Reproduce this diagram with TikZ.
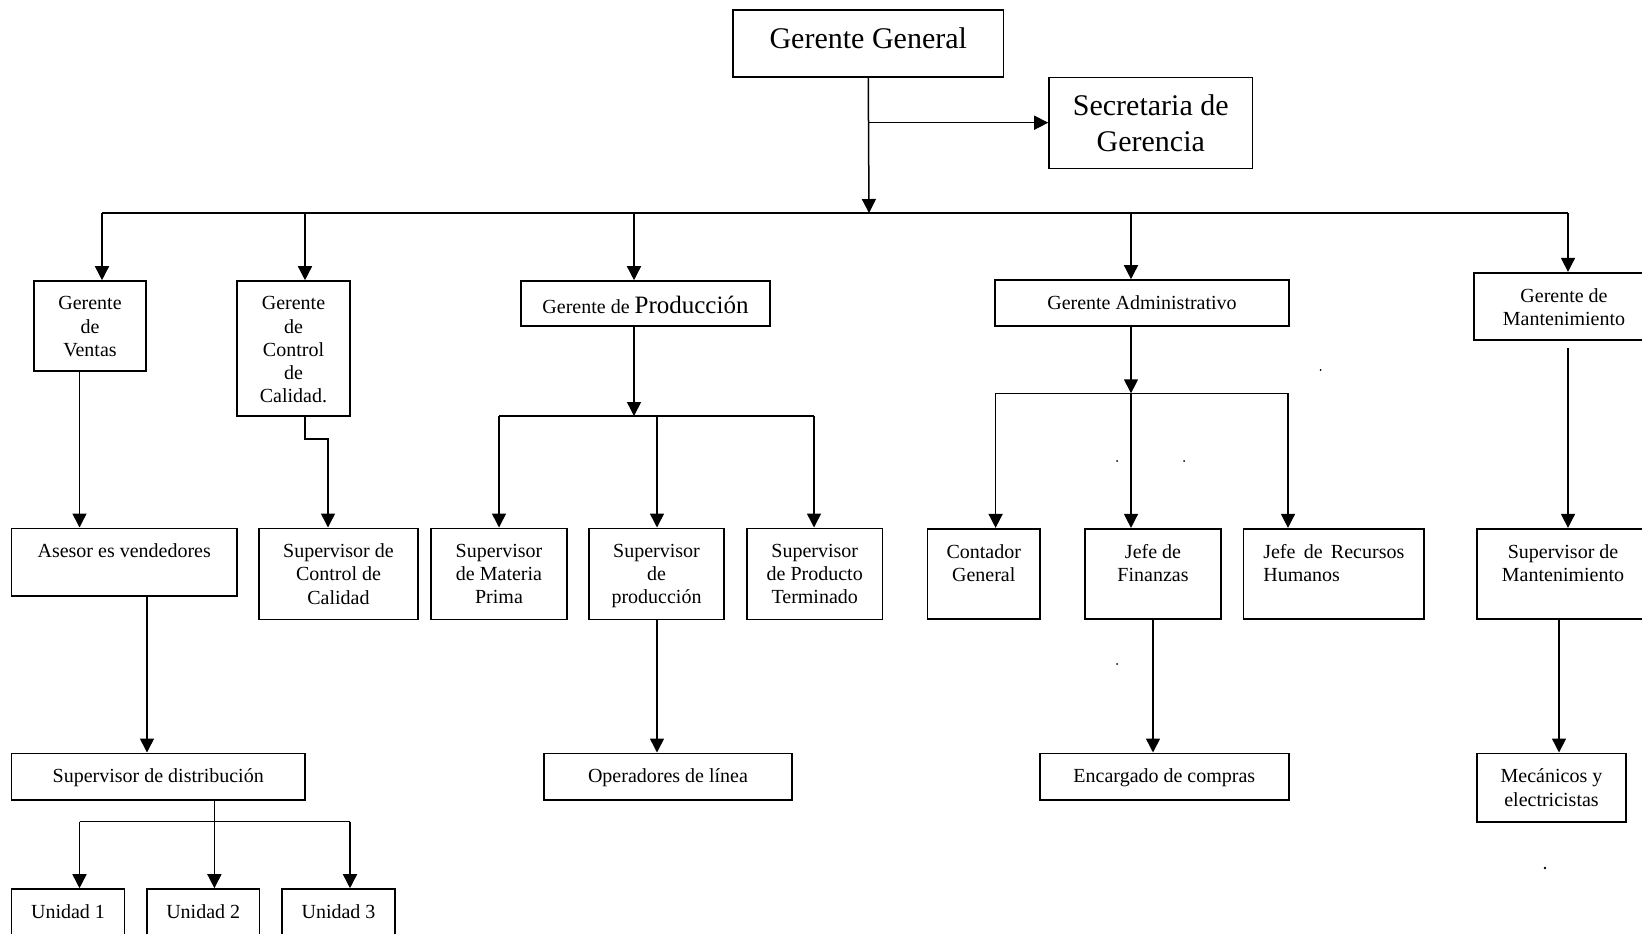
\documentclass[tikz,border=0pt]{standalone}
\usepackage{fontspec}
\setmainfont{Liberation Serif}
\usetikzlibrary{arrows.meta,fit}

\tikzset{
  box/.style={draw, line width=0.8pt, inner sep=0pt},
  txt/.style={inner sep=0pt, align=center, font=\fontsize{10pt}{11.6pt}\selectfont},
  bigtxt/.style={font=\fontsize{15pt}{18pt}\selectfont, yshift=-0.9pt},
  link/.style={line width=0.75pt},
  arr/.style={link, -{Triangle[length=7pt,width=7pt]}},
  speck/.style={black},
}

% #1 name, (#2,#3)-(#4,#5) box corners in px, #6 extra text options, #7 text
\newcommand{\orgbox}[7]{%
  \node[box, fit={(#2,#3) (#4,#5)}] (#1) {};
  \node[txt, anchor=north, #6] (#1-t) at ([yshift=-8pt]#1.north) {#7};
}

\begin{document}
\begin{tikzpicture}[x=0.5pt,y=-0.5pt]
\useasboundingbox (0,0) rectangle (1642,933);
\clip (0,0) rectangle (1642,933);

% ---- boxes ----
\orgbox{gg}{733}{10}{1003.5}{77}{bigtxt}{Gerente General}
\orgbox{sec}{1049}{77.3}{1252.5}{168.3}{bigtxt}{Secretaria de\\Gerencia}

\orgbox{ven}{34}{281}{146}{371}{}{Gerente\\de\\Ventas}
\orgbox{gcc}{237}{281}{350}{416}{}{Gerente\\de\\Control\\de\\Calidad.}
\orgbox{gpr}{521}{281}{770}{326}{}{Gerente de {\fontsize{12.5pt}{14pt}\selectfont Producción}}
\orgbox{gad}{995}{280}{1289}{326}{}{Gerente Administrativo}
\orgbox{gma}{1474}{272.7}{1654}{340}{}{Gerente de\\Mantenimiento}

\orgbox{ase}{11.5}{528.3}{237}{596}{}{Asesor es vendedores}
\orgbox{scc}{259}{528.3}{418}{619.3}{}{Supervisor de\\Control de\\Calidad}
\orgbox{smp}{431}{528.3}{567}{619.3}{}{Supervisor\\de Materia\\Prima}
\orgbox{spr}{589}{528.3}{724}{619.3}{}{Supervisor\\de\\producción}
\orgbox{spt}{747}{528.3}{882.4}{619.3}{}{Supervisor\\de Producto\\Terminado}
\orgbox{con}{927.5}{528.7}{1040}{619}{}{Contador\\General}
\orgbox{jfi}{1085}{528.7}{1221}{619}{}{Jefe de\\Finanzas}
\orgbox{jrh}{1243.6}{528.7}{1424}{619}{text width=70.5pt, align=left}{Jefe\hfill de\hfill Recursos\\Humanos}
\orgbox{smt}{1477}{528.7}{1649}{619}{}{Supervisor de\\Mantenimiento}

\orgbox{dis}{11.5}{753.3}{305}{800}{}{Supervisor de distribución}
\orgbox{ope}{544}{753.3}{792}{800}{}{Operadores de línea}
\orgbox{enc}{1040}{753.3}{1288.7}{800}{}{Encargado de compras}
\orgbox{mec}{1477}{753.3}{1626}{822}{}{Mecánicos y\\electricistas}

\orgbox{un1}{11.5}{889}{124.5}{945}{}{Unidad 1}
\orgbox{un2}{147}{889}{259.4}{945}{}{Unidad 2}
\orgbox{un3}{282}{889}{395}{945}{}{Unidad 3}

% ---- general manager ----
\coordinate (bus) at (869,213);
\coordinate (secY) at (869,122.7);
\draw[arr] (gg.south) -- (bus);
\draw[arr] (secY) -- (sec.west |- secY);

% ---- main bus to the managers ----
\coordinate (bL) at (102,213);
\coordinate (bCC) at (305,213);
\coordinate (bPr) at (634,213);
\coordinate (bAd) at (1131,213);
\coordinate (bR) at (1568,213);
\draw[link] (bL) -- (bR);
\draw[arr] (bL) -- (ven.north -| bL);
\draw[arr] (bCC) -- (gcc.north -| bCC);
\draw[arr] (bPr) -- (gpr.north -| bPr);
\draw[arr] (bAd) -- (gad.north -| bAd);
\draw[arr] (bR) -- (gma.north -| bR);

% ---- sales ----
\coordinate (vX) at (79.5,0);
\draw[arr] (ven.south -| vX) -- (ase.north -| vX);
\coordinate (asX) at (147,0);
\draw[arr] (ase.south -| asX) -- (dis.north -| asX);
\coordinate (uB) at (214.4,821.7);
\coordinate (uL) at (79.5,821.7);
\coordinate (uR) at (350,821.7);
\draw[link] (dis.south -| uB) -- (uB);
\draw[link] (uL) -- (uR);
\draw[arr] (uL) -- (un1.north -| uL);
\draw[arr] (uB) -- (un2.north -| uB);
\draw[arr] (uR) -- (un3.north -| uR);

% ---- quality ----
\coordinate (ccE) at (305,439);
\coordinate (ccF) at (328,439);
\draw[arr] (gcc.south -| ccE) -- (ccE) -- (ccF) -- (scc.north -| ccF);

% ---- production ----
\coordinate (pB) at (634,416);
\coordinate (pL) at (499,416);
\coordinate (pM) at (657,416);
\coordinate (pR) at (814,416);
\draw[arr] (gpr.south -| pB) -- (pB);
\draw[link] (pL) -- (pR);
\draw[arr] (pL) -- (smp.north -| pL);
\draw[arr] (pM) -- (spr.north -| pM);
\draw[arr] (pR) -- (spt.north -| pR);
\draw[arr] (spr.south -| pM) -- (ope.north -| pM);

% ---- administration ----
\coordinate (aB) at (1131,393.3);
\coordinate (aL) at (995.6,393.3);
\coordinate (aR) at (1288,393.3);
\draw[arr] (gad.south -| aB) -- (aB);
\draw[link] (aL) -- (aR);
\draw[arr] (aL) -- (con.north -| aL);
\draw[arr] (aB) -- (jfi.north -| aB);
\draw[arr] (aR) -- (jrh.north -| aR);
\draw[arr] (jfi.south) -- (enc.north -| jfi.south);

% ---- maintenance ----
\coordinate (mS) at (1568,348);
\draw[arr] (mS) -- (smt.north -| mS);
\coordinate (meX) at (1559,0);
\draw[arr] (smt.south -| meX) -- (mec.north -| meX);

% ---- stray specks ----
\fill[speck] (1320.6,370) circle (0.5pt);
\fill[speck] (1117,461) circle (0.5pt);
\fill[speck] (1184,461) circle (0.5pt);
\fill[speck] (1117,664) circle (0.5pt);
\fill[speck] (1545,868) circle (0.7pt);
\end{tikzpicture}
\end{document}
